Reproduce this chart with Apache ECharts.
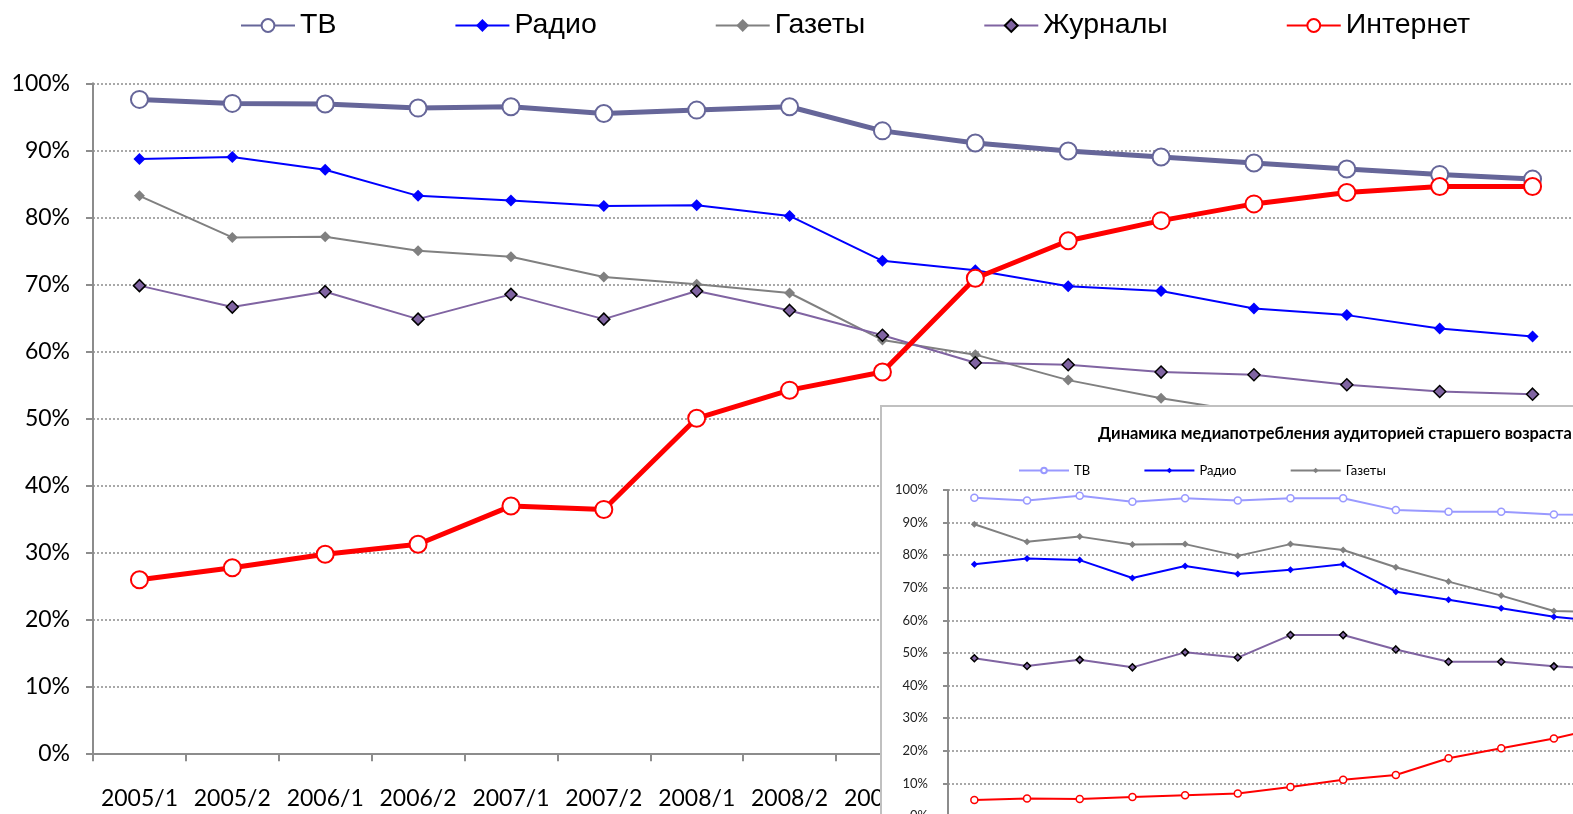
<!DOCTYPE html>
<html>
<head>
<meta charset="utf-8">
<title>Медиапотребление</title>
<script src="https://cdn.jsdelivr.net/npm/echarts@6/dist/echarts.min.js"></script>
<style>
  html, body { margin: 0; padding: 0; background: #fff; overflow: hidden; }
  /* canvas is wider than the window: the inset and the last band run past the edge */
  #chart { width: 1820px; height: 900px; }
</style>
</head>
<body>
<div id="chart"></div>
<script>
// periods (both charts use the same half-years)
var periods = ['2005/1', '2005/2', '2006/1', '2006/2', '2007/1', '2007/2', '2008/1', '2008/2',
               '2009/1', '2009/2', '2010/1', '2010/2', '2011/1', '2011/2', '2012/1', '2012/2'];
var yTicks = [0, 10, 20, 30, 40, 50, 60, 70, 80, 90, 100];

// main chart, % of audience
var tvAll       = [97.6, 97.0, 96.9, 96.3, 96.5, 95.5, 96.0, 96.5, 92.9, 91.1, 89.9, 89.0, 88.1, 87.2, 86.4, 85.7];
var radioAll    = [88.7, 89.0, 87.1, 83.2, 82.5, 81.7, 81.8, 80.2, 73.5, 72.1, 69.7, 69.0, 66.4, 65.4, 63.4, 62.2];
var papersAll   = [83.2, 77.0, 77.1, 75.0, 74.1, 71.1, 70.0, 68.7, 61.7, 59.5, 55.7, 53.0, 50.8, null, null, null];
var magsAll     = [69.8, 66.6, 68.9, 64.8, 68.5, 64.8, 69.0, 66.1, 62.4, 58.3, 58.0, 56.9, 56.5, 55.0, 54.0, 53.6];
var internetAll = [25.9, 27.7, 29.7, 31.2, 36.9, 36.4, 50.0, 54.2, 56.9, 70.9, 76.5, 79.5, 82.0, 83.7, 84.6, 84.6];

// inset: older audience
var tvOld       = [97.6, 96.8, 98.2, 96.4, 97.5, 96.8, 97.5, 97.5, 93.9, 93.3, 93.3, 92.5, 92.4, null, null, null];
var radioOld    = [77.2, 79.0, 78.5, 73.0, 76.7, 74.2, 75.5, 77.2, 68.8, 66.3, 63.7, 61.1, 59.5, null, null, null];
var papersOld   = [89.5, 84.1, 85.7, 83.3, 83.4, 79.8, 83.4, 81.6, 76.3, 71.9, 67.6, 62.9, 62.5, null, null, null];
var magsOld     = [48.4, 46.0, 47.9, 45.6, 50.2, 48.6, 55.5, 55.5, 51.1, 47.3, 47.3, 45.9, 45.0, null, null, null];
var internetOld = [4.9, 5.4, 5.2, 5.8, 6.4, 6.9, 8.9, 11.1, 12.6, 17.7, 20.8, 23.8, 27.5, null, null, null];

var names = ['ТВ', 'Радио', 'Газеты', 'Журналы', 'Интернет'];
// inset series get a trailing space so the two legends stay apart
var namesOld = names.map(function (n) { return n + ' '; });

var myChart = echarts.init(document.getElementById('chart'));

var gridLine = { show: true, lineStyle: { color: '#8c8c8c', width: 1.5, type: [2, 2] } };

option = {
    backgroundColor: '#fff',
    animation: false,
    title: {
        text: 'Динамика медиапотребления аудиторией старшего возраста',
        left: 1098,
        top: 426,
        padding: 0,
        z: 70,
        textStyle: { fontFamily: 'Lato', fontWeight: 'bold', fontSize: 16.4, color: '#000' }
    },
    legend: [{
        data: names,
        left: 235,
        top: 6,
        itemWidth: 54,
        itemHeight: 16,
        itemGap: 118,
        textStyle: { fontFamily: 'Liberation Sans', fontSize: 28.5, color: '#000' }
    }, {
        data: namesOld.slice(0, 3),
        left: 1013,
        top: 459,
        z: 70,
        itemWidth: 50,
        itemHeight: 7,
        itemGap: 50,
        textStyle: { fontFamily: 'Lato', fontSize: 13, color: '#000' }
    }],
    grid: [
        { left: 93, top: 83.3, width: 1486, height: 670 },
        { left: 948, top: 490, width: 843, height: 326 }
    ],
    xAxis: [{
        type: 'category',
        gridIndex: 0,
        data: periods,
        boundaryGap: true,
        axisLine: { lineStyle: { color: '#8c8c8c', width: 2 } },
        axisTick: { show: true, length: 8, lineStyle: { color: '#8c8c8c', width: 2 } },
        axisLabel: { margin: 34, interval: 0, fontFamily: 'Lato', fontSize: 23, color: '#000' }
    }, {
        type: 'category',
        gridIndex: 1,
        data: periods,
        boundaryGap: true,
        z: 60,
        axisLine: { lineStyle: { color: '#8c8c8c', width: 2 } },
        axisTick: { show: false },
        axisLabel: { show: false }
    }],
    yAxis: [{
        type: 'value',
        gridIndex: 0,
        min: 0,
        max: 100,
        interval: 10,
        axisLine: { show: true, lineStyle: { color: '#8c8c8c', width: 2 } },
        axisTick: { show: true, length: 7, lineStyle: { color: '#8c8c8c', width: 2 } },
        axisLabel: {
            margin: 23, fontFamily: 'Lato', fontSize: 23, color: '#000',
            formatter: function (v) { return yTicks.indexOf(v) >= 0 ? v + '%' : ''; }
        },
        splitLine: gridLine
    }, {
        type: 'value',
        gridIndex: 1,
        min: 0,
        max: 100,
        interval: 10,
        z: 60,
        axisLine: { show: true, lineStyle: { color: '#8c8c8c', width: 2 } },
        axisTick: { show: true, length: 5, lineStyle: { color: '#8c8c8c', width: 2 } },
        axisLabel: {
            margin: 20, fontFamily: 'Lato', fontSize: 13, color: '#222',
            formatter: function (v) { return v + '%'; }
        },
        splitLine: { show: true, lineStyle: { color: '#8c8c8c', width: 1.5, type: [2, 2] } }
    }],
    graphic: [{
        type: 'rect',
        z: 50,
        shape: { x: 881, y: 406, width: 930, height: 480 },
        style: { fill: '#fff', stroke: '#c0c0c0', lineWidth: 2 }
    }],
    series: [
        // main chart
        {
            name: names[0], type: 'line', data: tvAll,
            symbol: 'circle', symbolSize: 17,
            lineStyle: { color: '#666699', width: 5 },
            itemStyle: { color: '#fff', borderColor: '#666699', borderWidth: 2 },
            z: 3
        },
        {
            name: names[1], type: 'line', data: radioAll,
            symbol: 'diamond', symbolSize: 12,
            lineStyle: { color: '#0000ff', width: 2 },
            itemStyle: { color: '#0000ff' }
        },
        {
            name: names[2], type: 'line', data: papersAll,
            symbol: 'diamond', symbolSize: 11,
            lineStyle: { color: '#808080', width: 2 },
            itemStyle: { color: '#808080' }
        },
        {
            name: names[3], type: 'line', data: magsAll,
            symbol: 'diamond', symbolSize: 12,
            lineStyle: { color: '#8064a2', width: 2 },
            itemStyle: { color: '#8064a2', borderColor: '#000', borderWidth: 1.5 }
        },
        {
            name: names[4], type: 'line', data: internetAll,
            symbol: 'circle', symbolSize: 17,
            lineStyle: { color: '#ff0000', width: 5 },
            itemStyle: { color: '#fff', borderColor: '#ff0000', borderWidth: 2 },
            z: 4
        },
        // inset chart
        {
            name: namesOld[0], type: 'line', xAxisIndex: 1, yAxisIndex: 1, data: tvOld,
            symbol: 'circle', symbolSize: 7, z: 70,
            lineStyle: { color: '#9999ff', width: 2 },
            itemStyle: { color: '#fff', borderColor: '#9999ff', borderWidth: 1.5 }
        },
        {
            name: namesOld[1], type: 'line', xAxisIndex: 1, yAxisIndex: 1, data: radioOld,
            symbol: 'diamond', symbolSize: 7, z: 70,
            lineStyle: { color: '#0000ff', width: 2 },
            itemStyle: { color: '#0000ff' }
        },
        {
            name: namesOld[2], type: 'line', xAxisIndex: 1, yAxisIndex: 1, data: papersOld,
            symbol: 'diamond', symbolSize: 7, z: 70,
            lineStyle: { color: '#808080', width: 2 },
            itemStyle: { color: '#808080' }
        },
        {
            name: namesOld[3], type: 'line', xAxisIndex: 1, yAxisIndex: 1, data: magsOld,
            symbol: 'diamond', symbolSize: 7, z: 70,
            lineStyle: { color: '#8064a2', width: 2 },
            itemStyle: { color: '#8064a2', borderColor: '#000', borderWidth: 1.5 }
        },
        {
            name: namesOld[4], type: 'line', xAxisIndex: 1, yAxisIndex: 1, data: internetOld,
            symbol: 'circle', symbolSize: 7, z: 70,
            lineStyle: { color: '#ff0000', width: 2 },
            itemStyle: { color: '#fff', borderColor: '#ff0000', borderWidth: 1.5 }
        }
    ]
};

myChart.setOption(option);
</script>
</body>
</html>
